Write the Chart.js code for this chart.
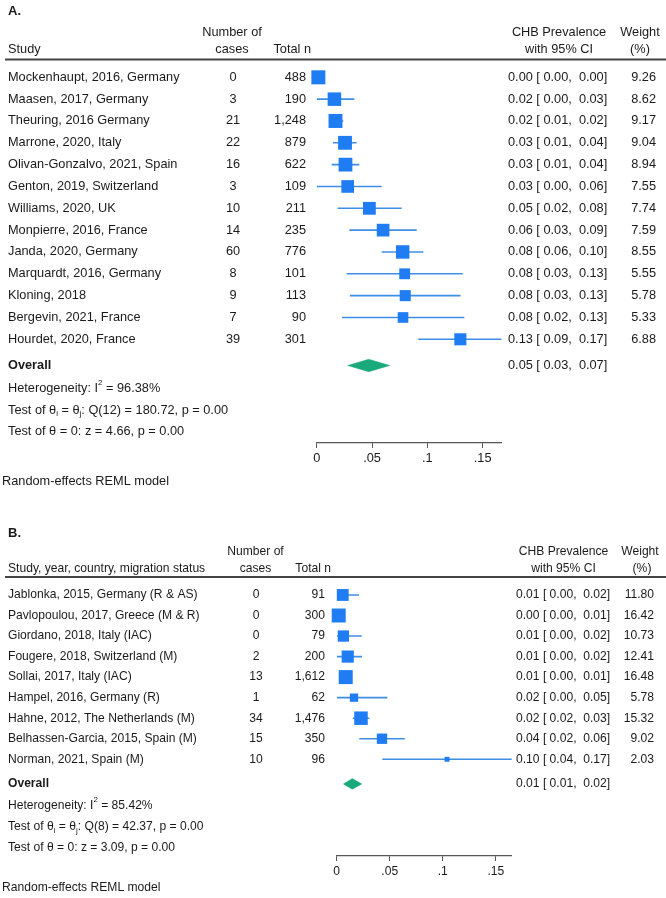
<!DOCTYPE html>
<html><head><meta charset="utf-8">
<script src="https://cdn.jsdelivr.net/npm/chart.js@4.4.1/dist/chart.umd.min.js"></script>
<style>
html,body{margin:0;padding:0;background:#fff;}
#wrap{position:relative;width:666px;height:898px;overflow:hidden;background:#fff}
canvas{position:absolute;left:0}
</style>
</head><body>
<div id="wrap">
<canvas id="cA" width="666" height="500" style="top:0"></canvas>
<canvas id="cB" width="666" height="398" style="top:500px"></canvas>
</div>
<script>
// ---------- Panel A data ----------
const studiesA = ['Mockenhaupt, 2016, Germany','Maasen, 2017, Germany','Theuring, 2016 Germany','Marrone, 2020, Italy','Olivan-Gonzalvo, 2021, Spain','Genton, 2019, Switzerland','Williams, 2020, UK','Monpierre, 2016, France','Janda, 2020, Germany','Marquardt, 2016, Germany','Kloning, 2018','Bergevin, 2021, France','Hourdet, 2020, France'];
const casesA = [0,3,21,22,16,3,10,14,60,8,9,7,39];
const totalA = [488,190,1248,879,622,109,211,235,776,101,113,90,301];
const estA = [0.0015,0.016,0.017,0.0256,0.026,0.028,0.0476,0.060,0.0777,0.0795,0.080,0.078,0.1298];
const loA  = [0.000,0.000,0.011,0.0146,0.0135,0.000,0.019,0.0295,0.0587,0.027,0.030,0.0229,0.0918];
const hiA  = [0.003,0.034,0.024,0.036,0.0385,0.0587,0.0768,0.0904,0.0964,0.132,0.130,0.1334,0.168];
const weightsA = [9.26,8.62,9.17,9.04,8.94,7.55,7.74,7.59,8.55,5.55,5.78,5.33,6.88];
const overallA = [0.047,0.028,0.066];
const statsA = [
  [['Heterogeneity: I',''],['2','sup'],[' = 96.38%','']],
  [['Test of \u03B8',''],['i','sub'],[' = \u03B8',''],['j','sub'],[': Q(12) = 180.72, p = 0.00','']],
  [['Test of \u03B8 = 0: z = 4.66, p = 0.00','']]
];
const headerA = ['Study','Number of','cases','Total n','CHB Prevalence','with 95% CI','Weight','(%)'];

// ---------- Panel B data ----------
const studiesB = ['Jablonka, 2015, Germany (R & AS)','Pavlopoulou, 2017, Greece (M & R)','Giordano, 2018, Italy (IAC)','Fougere, 2018, Switzerland (M)','Sollai, 2017, Italy (IAC)','Hampel, 2016, Germany (R)','Hahne, 2012, The Netherlands (M)','Belhassen-Garcia, 2015, Spain (M)','Norman, 2021, Spain (M)'];
const casesB = [0,0,0,2,13,1,34,15,10];
const totalB = [91,300,79,200,1612,62,1476,350,96];
const estB = [0.0057,0.0019,0.0063,0.0104,0.0085,0.0163,0.0229,0.0427,0.104];
const loB  = [0.000,0.000,0.000,0.000,0.004,0.000,0.0151,0.0213,0.043];
const hiB  = [0.021,0.006,0.0236,0.0239,0.013,0.0477,0.0308,0.0642,0.168];
const weightsB = [11.80,16.42,10.73,12.41,16.48,5.78,15.32,9.02,2.03];
const overallB = [0.0147,0.0063,0.0236];
const statsB = [
  [['Heterogeneity: I',''],['2','sup'],[' = 85.42%','']],
  [['Test of \u03B8',''],['i','sub'],[' = \u03B8',''],['j','sub'],[': Q(8) = 42.37, p = 0.00','']],
  [['Test of \u03B8 = 0: z = 3.09, p = 0.00','']]
];
const headerB = ['Study, year, country, migration status','Number of','cases','Total n','CHB Prevalence','with 95% CI','Weight','(%)'];

const xTicks = [0,0.05,0.1,0.15];
const xTickLabels = ['0','.05','.1','.15'];
const footnote = 'Random-effects REML model';

// ---------- styles ----------
const FONT = '"Liberation Sans", Arial, Helvetica, sans-serif';
const BOX = '#1f7cf2', WHISK = '#3f8ee6', DIAM = '#1aa97b', INK = '#1a1a1a', AXIS = '#555';

function f2(v){ return v.toFixed(2); }
function ciText(e,l,h){ return f2(e)+' [ '+f2(l)+',  '+f2(h)+']'; }
function thou(n){ return String(n).replace(/\B(?=(\d{3})+(?!\d))/g, ','); }

function drawRich(ctx, segs, x, y, fs){
  let cx = x;
  segs.forEach(([t,k]) => {
    const size = k ? 8 : fs;
    const dy = k === 'sup' ? -6 : (k === 'sub' ? 4 : 0);
    ctx.font = size+'px '+FONT;
    ctx.textAlign = 'left';
    ctx.fillText(t, cx, y+dy);
    cx += ctx.measureText(t).width;
  });
}

function drawTable(chart, P){
  const ctx = chart.ctx, ys = chart.scales.y, L = P.L, fs = P.fs;
  ctx.save();
  ctx.fillStyle = INK;
  ctx.textBaseline = 'middle';
  const txt = (s,x,y,a,bold,size) => { ctx.font = (bold?'bold ':'')+(size||fs)+'px '+FONT; ctx.textAlign = a||'left'; ctx.fillText(s,x,y); };
  txt(P.label, L.labelX, L.labelY, 'left', true, 13);
  const H = P.header;
  txt(H[0], L.nameX, L.h2, 'left');
  txt(H[1], L.casesHX, L.h1, 'center');
  txt(H[2], L.casesHX, L.h2, 'center');
  txt(H[3], L.totalHX, L.h2, 'right');
  txt(H[4], L.ciHX, L.h1, 'center');
  txt(H[5], L.ciHX, L.h2, 'center');
  txt(H[6], L.wHX, L.h1, 'center');
  txt(H[7], L.wHX2, L.h2, 'center');
  ctx.strokeStyle = '#444'; ctx.lineWidth = 1.8;
  ctx.beginPath(); ctx.moveTo(L.ruleX0, L.ruleY); ctx.lineTo(L.ruleX1, L.ruleY); ctx.stroke();
  P.studies.forEach((s,i) => {
    const y = ys.getPixelForValue(i);
    txt(s, L.nameX, y, 'left');
    txt(String(P.cases[i]), L.casesX, y, 'center');
    txt(thou(P.total[i]), L.totalX, y, 'right');
    txt(ciText(P.est[i], P.lo[i], P.hi[i]), L.ciX, y, 'left');
    txt(P.weights[i].toFixed(2), L.wX, y, 'right');
  });
  const yo = ys.getPixelForValue(P.overallRow);
  txt('Overall', L.nameX, yo, 'left', true);
  txt(ciText(P.overall[0], P.overall[1], P.overall[2]), L.ciX, yo, 'left');
  P.stats.forEach((segs, k) => drawRich(ctx, segs, L.nameX, ys.getPixelForValue(P.statsRows[k]), fs));
  txt(footnote, L.footX, L.footY, 'left');
  ctx.restore();
}

function makePanel(id, P){
  const maxW = Math.max(...P.weights);
  const datasets = [];
  datasets.push({
    type:'scatter', order:0, clip:false,
    data: P.est.map((v,i)=>({x:v, y:i})),
    pointStyle:'rect', backgroundColor: BOX, borderColor: BOX, borderWidth:0,
    pointRadius: c => P.boxMax*Math.sqrt(P.weights[c.dataIndex]/maxW)/Math.SQRT2,
    pointHoverRadius: c => P.boxMax*Math.sqrt(P.weights[c.dataIndex]/maxW)/Math.SQRT2
  });
  const r = P.overallRow, h = P.diamondHalf, o = P.overall;
  datasets.push({
    type:'line', order:1, showLine:true,
    data:[{x:o[1],y:r},{x:o[0],y:r-h},{x:o[2],y:r},{x:o[0],y:r+h},{x:o[1],y:r}],
    fill:'shape', backgroundColor: DIAM, borderColor: DIAM, borderWidth:0.5, pointRadius:0, tension:0
  });
  P.lo.forEach((l,i) => datasets.push({
    type:'line', order:2, showLine:true,
    data:[{x:l,y:i},{x:P.hi[i],y:i}],
    borderColor: WHISK, borderWidth:1.6, pointRadius:0, fill:false
  }));
  return new Chart(document.getElementById(id), {
    type:'scatter',
    data:{datasets},
    options:{
      responsive:false, animation:false, devicePixelRatio:1,
      events:[],
      layout:{padding:{left:P.padL, right:P.padR, top:P.padT, bottom:P.padB}},
      plugins:{legend:{display:false}, tooltip:{enabled:false}},
      scales:{
        x:{type:'linear', min:0, max:P.xMax, position:'bottom',
          afterBuildTicks: s => { s.ticks = xTicks.map(v=>({value:v})); },
          afterFit: s => { s.height = 25; },
          grid:{display:true, drawOnChartArea:false, drawTicks:true, tickLength:5, color:AXIS, lineWidth:1},
          border:{display:true, color:AXIS, width:1.3},
          ticks:{font:{family:FONT, size:P.fs}, color:INK, padding:3, maxRotation:0, autoSkip:false,
                 callback:(v,i)=>xTickLabels[i]}
        },
        y:{type:'linear', display:false, reverse:true, min:-0.5, max:P.yMax}
      }
    },
    plugins:[{id:'table_'+id, afterDraw: ch => drawTable(ch, P)}]
  });
}

makePanel('cA', {
  label:'A.', header:headerA, studies:studiesA, cases:casesA, total:totalA,
  est:estA, lo:loA, hi:hiA, weights:weightsA, overall:overallA, stats:statsA,
  overallRow:13.2, statsRows:[14.25,15.24,16.23], yMax:16.75, xMax:0.167,
  boxMax:14, diamondHalf:0.285, fs:12.75,
  padL:316.7, padR:164.5, padT:66.4, padB:32,
  L:{labelX:8, labelY:11, h1:32.5, h2:49.3, nameX:8, casesHX:232, casesX:233, totalHX:311, totalX:306,
     ciHX:559, ciX:508, wHX:640, wHX2:640, wX:656, ruleX0:5, ruleX1:666, ruleY:59.5, footX:2, footY:481.5}
});

makePanel('cB', {
  label:'B.', header:headerB, studies:studiesB, cases:casesB, total:totalB,
  est:estB, lo:loB, hi:hiB, weights:weightsB, overall:overallB, stats:statsB,
  overallRow:9.2, statsRows:[10.27,11.28,12.28], yMax:12.71, xMax:0.165,
  boxMax:14, diamondHalf:0.26, fs:12.1,
  padL:336.7, padR:154.3, padT:84.7, padB:17,
  L:{labelX:8, labelY:33.5, h1:51.7, h2:68.3, nameX:8, casesHX:255.5, casesX:256, totalHX:331, totalX:325,
     ciHX:563.5, ciX:516, wHX:640, wHX2:642, wX:654, ruleX0:5, ruleX1:666, ruleY:77, footX:2, footY:387.7}
});
</script>
</body></html>
